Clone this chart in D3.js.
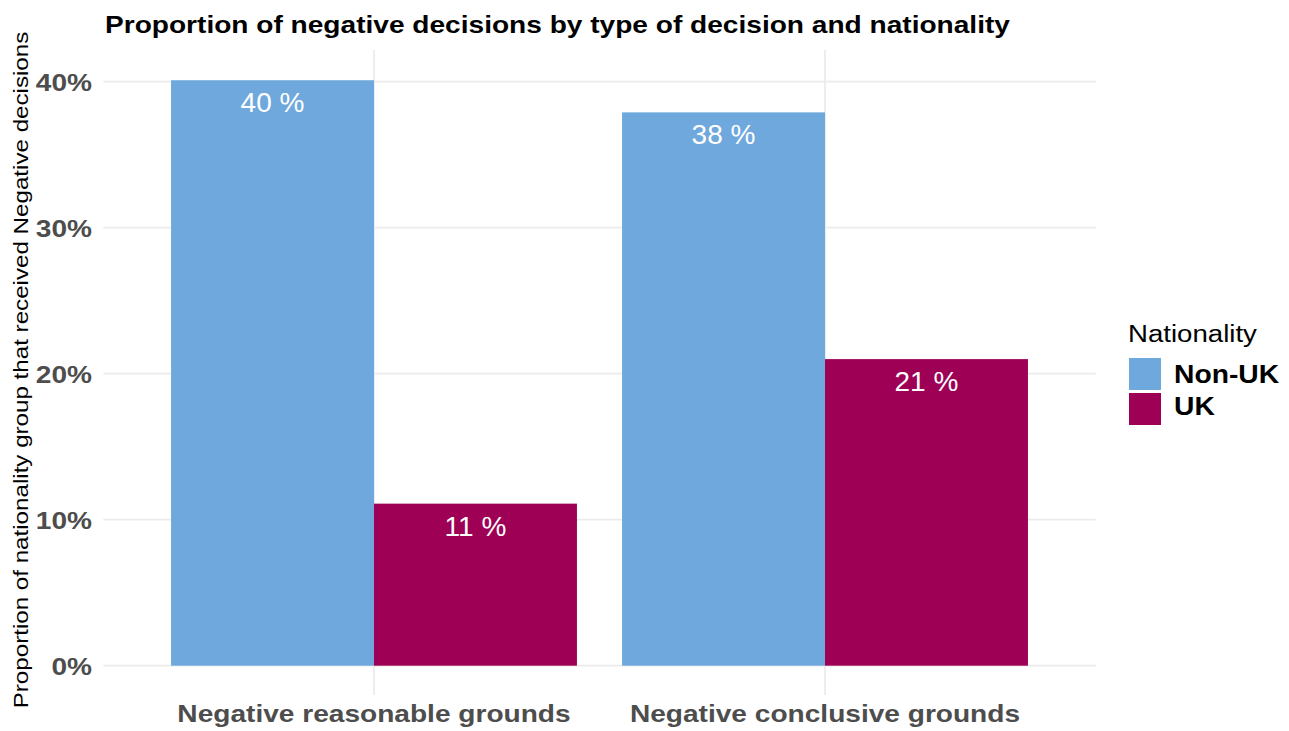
<!DOCTYPE html>
<html><head><meta charset="utf-8">
<script src="https://cdn.jsdelivr.net/npm/d3@7"></script>
<style>body{margin:0;background:#fff}svg{display:block;font-family:"Liberation Sans",Arial,sans-serif}</style>
</head><body><svg id="c" width="1289" height="731"></svg>
<script>
const categories = ["Negative reasonable grounds", "Negative conclusive grounds"];
const groups = ["Non-UK", "UK"];
const nonUK = [40.1, 37.9];
const uk = [11.1, 21.0];
const labelsNonUK = ["40 %", "38 %"];
const labelsUK = ["11 %", "21 %"];
const yTicks = [0, 10, 20, 30, 40];
const colors = ["#6fa8dc", "#9e0056"];

const svg = d3.select("#c");
const pl = 103.4, pr = 1095.6, pt = 50, pb = 665.7;
const xc = d3.scaleLinear().domain([0.4, 2.6]).range([pl, pr]);
const y = d3.scaleLinear().domain([0, 10]).range([pb, pb - 146]);

function stretch(sel, k) {
  sel.each(function() {
    const w = this.getComputedTextLength();
    d3.select(this).attr("textLength", w * k).attr("lengthAdjust", "spacingAndGlyphs");
  });
}

const data = [];
categories.forEach((c, i) => {
  data.push({cat: i, g: 0, v: nonUK[i], lab: labelsNonUK[i]});
  data.push({cat: i, g: 1, v: uk[i], lab: labelsUK[i]});
});

svg.append("g").selectAll("line").data(yTicks).join("line")
  .attr("x1", pl).attr("x2", pr).attr("y1", d => y(d)).attr("y2", d => y(d))
  .attr("stroke", "#ebebeb").attr("stroke-width", 1.8);
svg.append("g").selectAll("line").data(categories).join("line")
  .attr("x1", (d, i) => xc(i + 1)).attr("x2", (d, i) => xc(i + 1))
  .attr("y1", pt).attr("y2", 695)
  .attr("stroke", "#ebebeb").attr("stroke-width", 1.8);

const bw = 0.45;
svg.append("g").selectAll("rect").data(data).join("rect")
  .attr("x", d => xc(d.cat + 1 - 0.45 + d.g * bw))
  .attr("width", d => xc(bw) - xc(0))
  .attr("y", d => y(d.v)).attr("height", d => y(0) - y(d.v))
  .attr("fill", d => colors[d.g]);

svg.append("g").selectAll("text").data(data).join("text")
  .attr("x", d => xc(d.cat + 1 - 0.45 + d.g * bw + bw / 2))
  .attr("y", d => y(d.v) + 32)
  .attr("text-anchor", "middle").attr("fill", "#fff")
  .attr("font-size", 28).text(d => d.lab);

const yt = svg.append("g").selectAll("text").data(yTicks).join("text")
  .attr("x", 92).attr("y", d => y(d) + 9)
  .attr("text-anchor", "end").attr("fill", "#4d4d4d")
  .attr("font-size", 24).attr("font-weight", "bold")
  .text(d => d + "%");
stretch(yt, 1.17);

const xt = svg.append("g").selectAll("text").data(categories).join("text")
  .attr("x", (d, i) => xc(i + 1)).attr("y", 722)
  .attr("text-anchor", "middle").attr("fill", "#4d4d4d")
  .attr("font-size", 24).attr("font-weight", "bold").text(d => d);
stretch(xt, 1.17);

const ytl = svg.append("text").attr("transform", "translate(28," + 370 + ") rotate(-90)")
  .attr("text-anchor", "middle").attr("font-size", 21).attr("fill", "#000")
  .text("Proportion of nationality group that received Negative decisions");
stretch(ytl, 1.15);

const tt = svg.append("text").attr("x", 105).attr("y", 32.5).attr("font-size", 24)
  .attr("font-weight", "bold").attr("fill", "#000")
  .text("Proportion of negative decisions by type of decision and nationality");
stretch(tt, 1.17);

const lg = svg.append("g");
const lt = lg.append("text").attr("x", 1128).attr("y", 342).attr("font-size", 23).text("Nationality");
stretch(lt, 1.2);
lg.selectAll("rect").data(groups).join("rect")
  .attr("x", 1129).attr("y", (d, i) => 358 + i * 35).attr("width", 32).attr("height", 32)
  .attr("fill", (d, i) => colors[i]);
const ll = lg.selectAll("text.l").data(groups).join("text").attr("class", "l")
  .attr("x", 1174).attr("y", (d, i) => 383 + i * 31.5)
  .attr("font-size", 25).attr("font-weight", "bold").text(d => d);
stretch(ll, 1.13);
</script></body></html>
